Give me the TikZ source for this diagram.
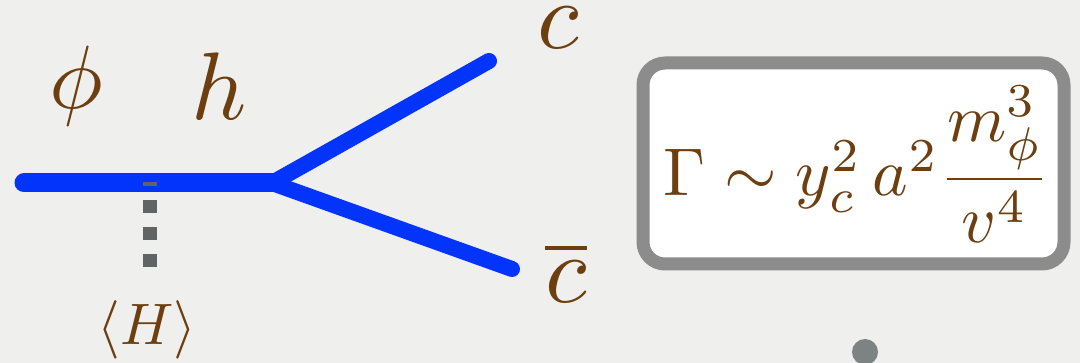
\documentclass[tikz,border=0pt]{standalone}
\usepackage{amsmath}
\definecolor{bgc}{RGB}{239,239,237}
\definecolor{quark}{RGB}{2,52,252}
\definecolor{txt}{RGB}{108,62,16}
\definecolor{vev}{RGB}{96,100,100}
\definecolor{boxline}{RGB}{140,140,140}
\definecolor{dotc}{RGB}{125,131,130}
\begin{document}
\begin{tikzpicture}[x=1pt,y=-1pt,
  lbl/.style={inner sep=0pt,outer sep=0pt,text=txt},
  fermion/.style={draw=quark,line cap=round,line width=16pt},
  scalarline/.style={draw=quark,line cap=round,line width=19pt},
  vevline/.style={draw=vev,line width=14pt,dash pattern=on 13pt off 14pt,dash phase=9pt},
  ratebox/.style={draw=boxline,line width=13pt,fill=white,rounded corners=22pt,
    minimum width=421pt,minimum height=201pt,inner sep=0pt}]
\useasboundingbox[fill=bgc] (0,0) rectangle (1080,363);
% propagators
\coordinate (L) at (24,183);
\coordinate (V) at (272,183);
\coordinate (C) at (489,61);
\coordinate (Cb) at (512,269);
\draw[scalarline] (L) -- (V);
\draw[fermion] (V) -- (C);
\draw[fermion] (V) -- (Cb);
% vev insertion
\coordinate (Ht) at (150,182);
\coordinate (Hb) at (150,267);
\draw[vevline] (Ht) -- (Hb);
% labels
\node[lbl,scale=9.0] (phi) at (76,86) {$\phi$};
\node[lbl,scale=9.6] (h) at (219,86.5) {$h$};
\node[lbl,scale=9.6,anchor=base] (c) at (558,49) {$c$};
\node[lbl,scale=9.6,anchor=base] (cb) at (566,303) {$\overline{c}$};
\node[lbl,scale=5.85,anchor=base] (H) at (147,345) {$\langle H\rangle$};
% rate box
\node[ratebox] (box) at (853.5,163.5) {};
\node[lbl,scale=6.75,anchor=base] (rate) at (857,196) {$\Gamma\sim y_c^2\,a^2\dfrac{m_\phi^3}{v^4}$};
% dot
\fill[dotc] (865,352) circle (13pt) node (dot) {};
\end{tikzpicture}
\end{document}
